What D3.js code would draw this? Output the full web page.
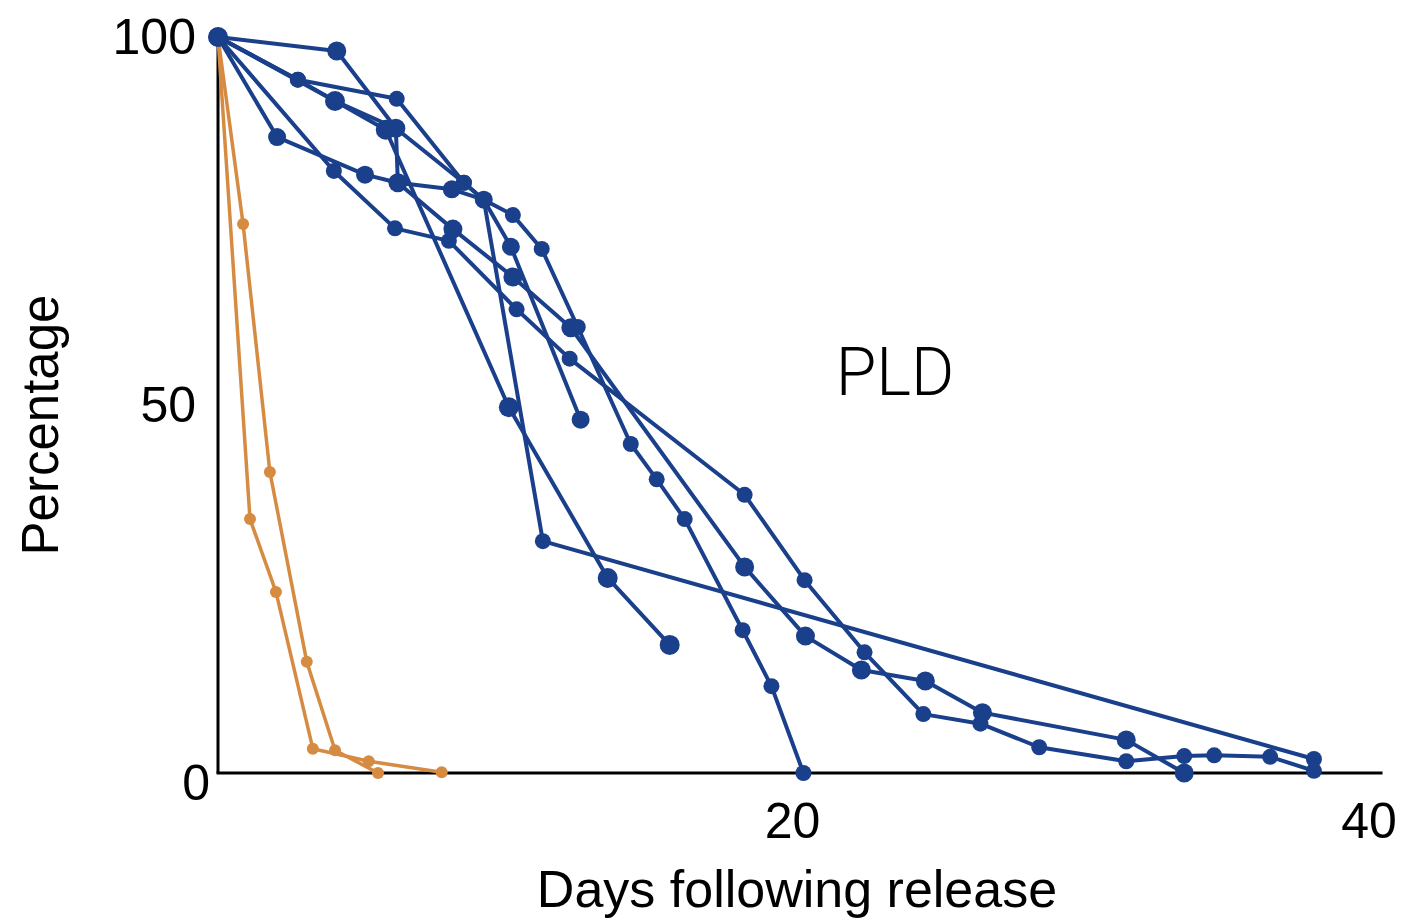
<!DOCTYPE html>
<html>
<head>
<meta charset="utf-8">
<script src="https://cdnjs.cloudflare.com/ajax/libs/d3/7.8.5/d3.min.js"></script>
<style>
  body { margin: 0; background: #fff; }
  text { font-family: "Liberation Sans", Arial, sans-serif; fill: #000; }
</style>
</head>
<body>
<div id="graph"></div>
<script>
// tick labels
var xTicks = [20, 40];
var yTicks = [0, 50, 100];

// blue runs (days, percentage remaining)
var blueDays = [
  [0, 4.02, 6.14, 8.01, 10.36, 12.2, 18.27, 20.35, 22.43, 24.47, 26.45, 28.49, 31.51, 33.52, 34.56, 36.5, 38.02],
  [0, 4.06, 5.82, 10.09, 13.52, 15.67],
  [0, 4.12, 6.17, 6.24, 8.15, 10.23, 12.24, 18.27, 20.38, 22.32, 24.54, 26.52, 31.51, 33.52],
  [0, 2.77, 6.2, 8.53, 9.22, 10.23, 11.23, 12.48, 14.32, 15.22, 16.19, 18.2, 19.2, 20.31],
  [0, 2.05, 5.1, 6.24, 8.11, 9.22, 10.16, 12.58],
  [0, 2.77, 4.06, 6.17, 8.53, 9.22, 11.27, 38.02]
];
var bluePct = [
  [100, 81.8, 74.0, 72.3, 63.0, 56.3, 37.8, 26.2, 16.4, 8.0, 6.7, 3.5, 1.6, 2.3, 2.4, 2.2, 0.3],
  [100, 91.3, 87.4, 49.7, 26.5, 17.4],
  [100, 98.1, 87.6, 80.2, 73.9, 67.4, 60.5, 28.0, 18.6, 14.0, 12.5, 8.2, 4.5, 0],
  [100, 94.2, 91.6, 80.2, 77.9, 75.8, 71.2, 60.6, 44.7, 39.9, 34.5, 19.4, 11.8, 0],
  [100, 86.4, 81.3, 80.2, 79.3, 77.9, 71.5, 48.0],
  [100, 94.2, 91.3, 87.6, 80.2, 77.9, 31.5, 1.9]
];
var blueDot = [8, 10, 9.5, 8, 9, 8];

// orange runs
var orangeDays = [
  [0, 0.87, 1.8, 3.08, 4.06, 5.55],
  [0, 1.11, 2.01, 3.29, 5.23, 7.76]
];
var orangePct = [
  [100, 74.6, 40.9, 15.1, 3.1, 0],
  [100, 34.5, 24.6, 3.3, 1.6, 0.1]
];

var blue = "#1a3f8b";
var orange = "#d68b42";

var width = 1427, height = 921;

var x = d3.scaleLinear().domain([0, 40]).range([218, 1371]);
var y = d3.scaleLinear().domain([0, 100]).range([773, 37]);

var svg = d3.select("#graph")
  .append("svg")
  .attr("width", width)
  .attr("height", height);

// axes: plain lines, no tick marks
svg.append("line")
  .attr("x1", x(0)).attr("x2", x(0))
  .attr("y1", y(99)).attr("y2", y(0))
  .attr("stroke", "#000").attr("stroke-width", 3);
svg.append("line")
  .attr("x1", x(0) - 1.5).attr("x2", x(40.4))
  .attr("y1", y(0)).attr("y2", y(0))
  .attr("stroke", "#000").attr("stroke-width", 3);

var line = d3.line()
  .x(function(d) { return x(d[0]); })
  .y(function(d) { return y(d[1]); });

function draw(days, pct, color, lw, rad) {
  days.forEach(function(run, i) {
    var pts = run.map(function(d, j) { return [d, pct[i][j]]; });
    var r = Array.isArray(rad) ? rad[i] : rad;
    var g = svg.append("g");
    g.append("path")
      .datum(pts)
      .attr("d", line)
      .attr("fill", "none")
      .attr("stroke", color)
      .attr("stroke-width", lw)
      .attr("stroke-linejoin", "round");
    g.selectAll("circle")
      .data(pts)
      .enter()
      .append("circle")
      .attr("cx", function(d) { return x(d[0]); })
      .attr("cy", function(d) { return y(d[1]); })
      .attr("r", r)
      .attr("fill", color);
  });
}

draw(orangeDays, orangePct, orange, 3.5, 6);
draw(blueDays, bluePct, blue, 4, blueDot);

// y tick labels
svg.selectAll(".ytick")
  .data(yTicks)
  .enter()
  .append("text")
  .attr("class", "ytick")
  .attr("x", function(d) { return d == 0 ? 210 : 196; })
  .attr("y", function(d) { return y(d) + (d == 0 ? 27 : 17); })
  .attr("text-anchor", "end")
  .style("font-size", "50px")
  .text(function(d) { return d; });

// x tick labels
svg.selectAll(".xtick")
  .data(xTicks)
  .enter()
  .append("text")
  .attr("class", "xtick")
  .attr("x", function(d) { return x(d) - 2; })
  .attr("y", 838)
  .attr("text-anchor", "middle")
  .style("font-size", "50px")
  .text(function(d) { return d; });

// axis titles
svg.append("text")
  .attr("x", 797)
  .attr("y", 907)
  .attr("text-anchor", "middle")
  .style("font-size", "52px")
  .text("Days following release");

svg.append("text")
  .attr("transform", "translate(58,425) rotate(-90)")
  .attr("text-anchor", "middle")
  .style("font-size", "51px")
  .text("Percentage");

svg.append("text")
  .attr("x", 895)
  .attr("y", 395)
  .attr("text-anchor", "middle")
  .style("font-family", "Roboto, 'Liberation Sans', sans-serif")
  .style("font-weight", 300)
  .style("font-size", "66px")
  .text("PLD");
</script>
</body>
</html>
